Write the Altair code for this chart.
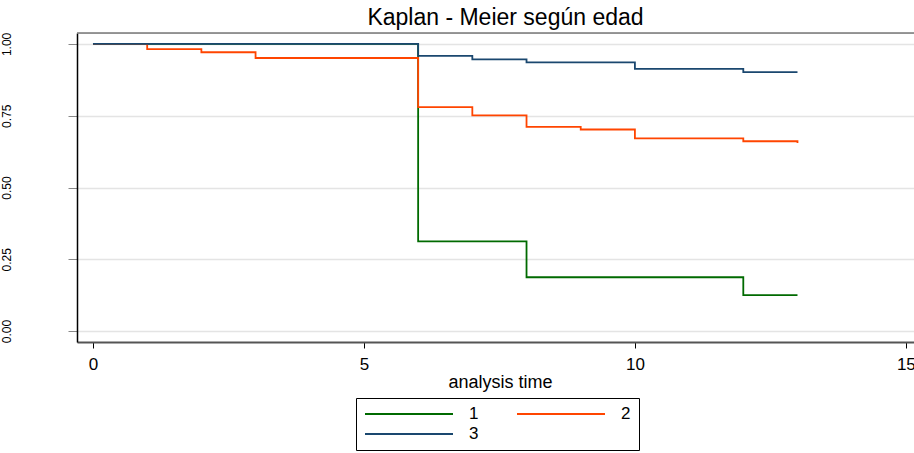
import altair as alt
import pandas as pd

# Kaplan-Meier survival estimates by age group
group_labels = ["1", "2", "3"]
times_1 = [0, 6, 8, 12, 13]
surv_1 = [1.0, 0.3125, 0.1875, 0.125, 0.125]
times_2 = [0, 1, 2, 3, 6, 7, 8, 9, 10, 12, 13]
surv_2 = [1.0, 0.982, 0.971, 0.951, 0.780, 0.751, 0.711, 0.702, 0.671, 0.661, 0.655]
times_3 = [0, 6, 7, 8, 10, 12, 13]
surv_3 = [1.0, 0.958, 0.946, 0.936, 0.913, 0.902, 0.902]
colors = ["#006a00", "#ff4500", "#1a476f"]
x_ticks = [0, 5, 10, 15]
y_ticks = [0.0, 0.25, 0.5, 0.75, 1.0]

rows = []
for g, ts, ss in zip(group_labels, [times_1, times_2, times_3], [surv_1, surv_2, surv_3]):
    for t, s in zip(ts, ss):
        rows.append({"time": t, "surv": s, "grupo": g})
df = pd.DataFrame(rows)

W, H = 837, 309

lines = alt.Chart(df).mark_line(interpolate="step-after", strokeWidth=1.8).encode(
    x=alt.X("time:Q",
            scale=alt.Scale(domain=[-0.295, 15.15], nice=False, zero=False),
            axis=alt.Axis(values=x_ticks, title="analysis time", grid=False,
                          tickSize=6, tickColor="#000", labelFontSize=17,
                          labelPadding=8, titleFontSize=18, titleFontWeight="normal",
                          titlePadding=1, titleX=423, domainColor="#555", domainWidth=2,
                          labelFont="Liberation Sans", titleFont="Liberation Sans",
                          labelColor="#000", titleColor="#000")),
    y=alt.Y("surv:Q",
            scale=alt.Scale(domain=[-0.038, 1.038], nice=False, zero=False),
            axis=alt.Axis(values=y_ticks, format=".2f", title=None, grid=True,
                          gridColor="#e4e4e4", gridWidth=1.5, tickSize=9,
                          tickColor="#888", labelAngle=-90, labelAlign="center",
                          labelBaseline="bottom", labelPadding=55, labelFontSize=12,
                          labelFont="Liberation Sans", labelColor="#000",
                          domainColor="#000", domainWidth=1.5)),
    color=alt.Color("grupo:N",
                    scale=alt.Scale(domain=group_labels, range=colors),
                    legend=alt.Legend(title=None, orient="none", legendX=279, legendY=365,
                                      direction="horizontal", columns=2,
                                      symbolType="stroke", symbolSize=7744, clipHeight=16,
                                      symbolStrokeWidth=1.8, labelFontSize=17,
                                      labelFont="Liberation Sans", labelColor="#000",
                                      labelOffset=15, columnPadding=37, rowPadding=3,
                                      padding=8, strokeColor="#000", fillColor="#fff",
                                      cornerRadius=0)),
)

top_border = alt.Chart(pd.DataFrame({"a": [0]})).mark_rule(color="#777", strokeWidth=1.5).encode(
    x=alt.value(0), x2=alt.value(W), y=alt.value(0)
)

chart = alt.layer(lines, top_border).properties(
    width=W, height=H,
    title=alt.TitleParams("Kaplan - Meier según edad", fontSize=23, font="Liberation Sans",
                          fontWeight="normal", color="#000", anchor="middle", dx=10, offset=2),
    autosize=alt.AutoSizeParams(type="none"),
    padding={"left": 77, "top": 33, "right": 0, "bottom": 111},
).configure_view(stroke=None).configure(background="#ffffff")

chart.save("out.html", embed_options={"renderer": "svg", "actions": False})
